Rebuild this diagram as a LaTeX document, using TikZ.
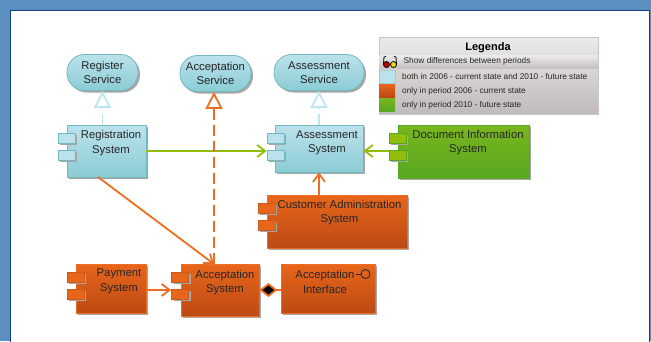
\documentclass[tikz,border=0pt]{standalone}
\usepackage{fontspec}
\usepackage{xcolor}
\setmainfont{Liberation Sans}
\usetikzlibrary{arrows.meta,shadows}
\definecolor{framebg}{HTML}{5B8FBF}
\definecolor{framedark}{HTML}{0F3F8C}
\definecolor{bluetop}{HTML}{BBE2EC}
\definecolor{bluebot}{HTML}{8BCCD3}
\definecolor{blueline}{HTML}{74B8BF}
\definecolor{blueconn}{HTML}{BDE6F0}
\definecolor{orangetop}{HTML}{E8661A}
\definecolor{orangebot}{HTML}{BC4A14}
\definecolor{orangeline}{HTML}{EC6E24}
\definecolor{greentop}{HTML}{7AB51D}
\definecolor{greenbot}{HTML}{58A820}
\definecolor{greenline}{HTML}{93BD0C}
\definecolor{legtop}{HTML}{ECEAEA}
\definecolor{legbot}{HTML}{C0BABA}
\definecolor{legline}{HTML}{C8C4C4}
\tikzset{
    shade/.style={drop shadow={shadow xshift=2pt, shadow yshift=-2pt, fill=black!35, opacity=1}},
    blueset/.style={draw=blueline, top color=bluetop, bottom color=bluebot},
    orangeset/.style={draw=orangeline, top color=orangetop, bottom color=orangebot},
    greenset/.style={draw=greenbot, top color=greentop, bottom color=greenbot},
    compbox/.style={shade, thick, inner sep=0pt, font=\fontsize{11.3}{14}\selectfont, text=black!85},
    service/.style={compbox, blueset, rounded corners=17.5pt, minimum width=71pt, minimum height=36pt, align=center},
    boxtext/.style={inner sep=0pt, align=center, font=\fontsize{11.3}{14.5}\selectfont, text=black!85},
    portbox/.style={thick, inner sep=0pt, minimum width=17pt, minimum height=10pt, shade},
    blueport/.style={portbox, draw=blueline, fill=bluetop},
    orangeport/.style={portbox, draw=orangeline!85!black, fill=orangetop},
    greenport/.style={portbox, draw=greenbot, fill=greenline},
    legrow/.style={inner sep=0pt, anchor=west, font=\fontsize{8.3}{10}\selectfont, text=black!85},
    swatch/.style={inner sep=0pt, minimum width=16pt, minimum height=13pt},
    realize/.style={line width=1.8pt, dash pattern=on 11pt off 5pt},
    opentip/.style={line width=1.8pt, -{Straight Barb[length=8pt,width=12pt]}},
}
\begin{document}
\begin{tikzpicture}[x=1pt, y=-1pt]
    \useasboundingbox (0, 0) rectangle (651, 341);
    \fill [framebg] (0, 0) rectangle (651, 341);
    \draw [framedark, fill=white, thick] (10.5, 10.5) rectangle (649, 345);

    % services
    \node [service] (regsrv) at (102.5, 72.5) {Register\\Service};
    \node [service] (acceptsrv) at (215.5, 73.5) {Acceptation\\Service};
    \node [service, minimum width=90pt] (assesssrv) at (319, 72.5) {Assessment\\Service};

    % systems
    \node [compbox, blueset, minimum width=79pt, minimum height=52pt] (regsys) at (106.5, 151) {};
    \node [boxtext] (regtxt) at (111, 143) {Registration\\System};
    \node [compbox, blueset, minimum width=88pt, minimum height=47pt] (assesssys) at (319, 148.5) {};
    \node [boxtext] (assesstxt) at (327, 143) {Assessment\\System};
    \node [compbox, greenset, minimum width=131pt, minimum height=53pt] (docsys) at (463.5, 151.5) {};
    \node [boxtext] (doctxt) at (468, 142.5) {Document Information\\System};
    \node [compbox, orangeset, minimum width=140pt, minimum height=53pt] (custsys) at (337, 221.5) {};
    \node [boxtext] (custtxt) at (339.5, 212.5) {Customer Administration\\System};
    \node [compbox, orangeset, minimum width=70pt, minimum height=49pt] (paysys) at (111, 288.5) {};
    \node [boxtext] (paytxt) at (119, 281.5) {Payment\\System};
    \node [compbox, orangeset, minimum width=78pt, minimum height=52pt] (acceptsys) at (220, 290) {};
    \node [boxtext] (accepttxt) at (225, 282.5) {Acceptation\\System};
    \node [compbox, orangeset, minimum width=94pt, minimum height=49pt] (acceptint) at (328, 288.5) {};
    \node [boxtext] (inttxt) at (325, 282) {Acceptation\\Interface};

    % ports
    \foreach \name/\px/\py/\kind in {
        regsys/66.5/138/blueport, assesssys/275.5/138/blueport, docsys/397.5/138/greenport,
        custsys/266.5/208/orangeport, paysys/75.5/277/orangeport, acceptsys/180/277/orangeport} {
        \node [\kind] (\name upper) at (\px, \py) {};
        \node [\kind] (\name lower) at (\px, \py+17) {};
    }

    % interface lollipop
    \node [circle, draw=black!85, thick, inner sep=0pt, minimum size=9pt] (lolli) at (365.5, 274) {};
    \draw [black!85, thick] (lolli.west) -- +(-5, 0);

    % connectors
    \coordinate (regout) at (98, 177);
    \coordinate (acceptin) at (214, 264);
    \draw [realize, blueconn, -{Triangle[open, fill=white, length=17pt, width=17pt]}] (regsys.north -| regsrv.south) -- (regsrv.south);
    \draw [realize, blueconn, -{Triangle[open, fill=white, length=17pt, width=17pt]}] (assesssys.north -| assesssrv.south) -- (assesssrv.south);
    \draw [opentip, greenline] (regsys.east) -- (regsys.east -| assesssyslower.west);
    \draw [opentip, greenline] (docsyslower.west |- regsys.east) -- (assesssys.east |- regsys.east);
    \draw [opentip, orangeline] (custsys.north -| assesssys.south) -- (assesssys.south);
    \draw [realize, orangeline, -{Triangle[open, fill=white, length=17pt, width=17pt]}] (acceptin) -- (acceptin |- acceptsrv.south);
    \draw [opentip, orangeline] (regout) -- (acceptin);
    \draw [opentip, orangeline] (paysys.east |- acceptsys.east) -- (acceptsyslower.west |- acceptsys.east);
    \draw [line width=1.8pt, orangeline, {Diamond[fill=black, length=18pt, width=14pt]}-] (acceptsys.east) -- (acceptint.west |- acceptsys.east);

    % legend
    \node [inner sep=0pt, minimum width=219pt, minimum height=77pt, draw=legline, thick, top color=legtop, bottom color=legbot] (legbox) at (488.5, 75.5) {};
    \node [font=\bfseries\fontsize{11}{12}\selectfont, inner sep=0pt] (legtitle) at (488, 48) {Legenda};
    \node [inner sep=0pt, minimum width=218pt, minimum height=13pt, top color=legtop, bottom color=legbot!90!white] (legbar) at (488.5, 61.5) {};
    \node [legrow] (legshow) at (403.5, 61.5) {Show differences between periods};
    \node [swatch, draw=blueline!70, fill=bluetop] (swblue) at (387, 76.5) {};
    \node [swatch, top color=orangetop, bottom color=orangebot] (sworange) at (387, 90.5) {};
    \node [swatch, top color=greentop, bottom color=greenbot] (swgreen) at (387, 104.5) {};
    \node [legrow] (legblue) at (402, 77) {both in 2006 - current state and 2010 - future state};
    \node [legrow] (legorange) at (402, 91) {only in period 2006 - current state};
    \node [legrow] (leggreen) at (402, 105) {only in period 2010 - future state};

    % glasses
    \draw [thick, fill=red!80!black] (386.5, 64.5) circle (3pt);
    \draw [thick, fill=yellow!90!black] (393.5, 64.5) circle (3pt);
    \draw [thick] (383.5, 64) -- (384, 57) -- (386, 56.5) (396.5, 64) -- (396, 57) -- (394, 56.5) (389.5, 64) -- (390.5, 64);
\end{tikzpicture}
\end{document}
